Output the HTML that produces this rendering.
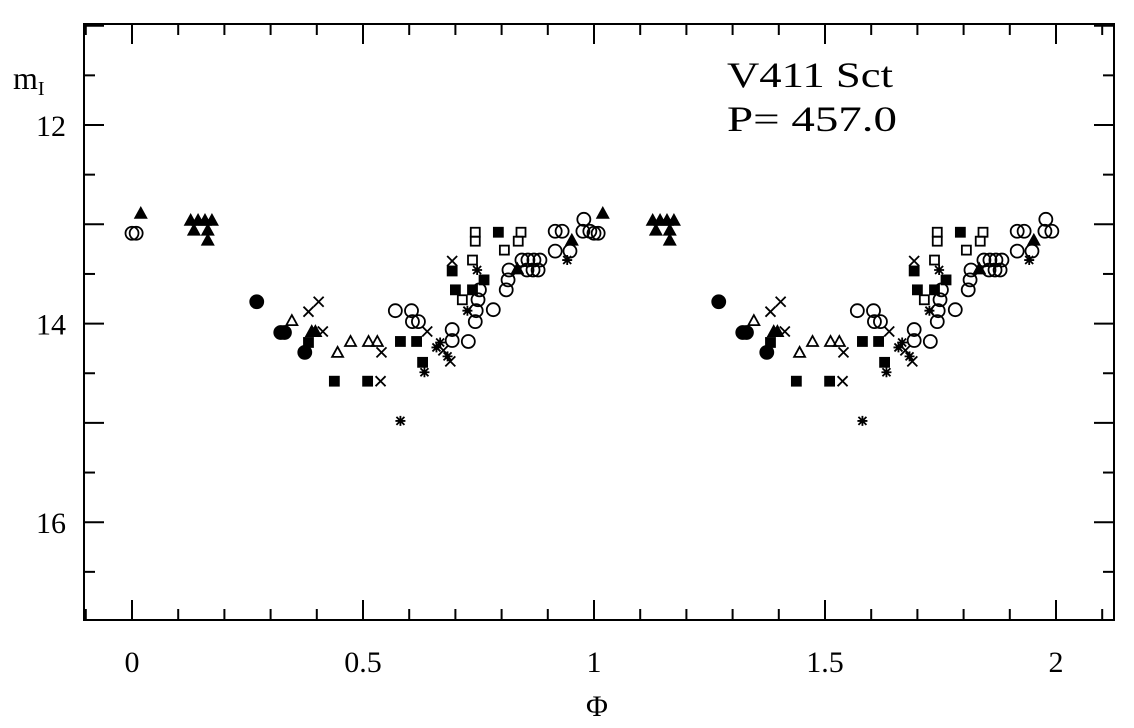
<!DOCTYPE html>
<html><head><meta charset="utf-8"><style>
html,body{margin:0;padding:0;background:#fff;}
svg{display:block;font-family:"Liberation Serif",serif;}
</style></head><body>
<svg id="chart" width="1134" height="728" viewBox="0 0 1134 728">
<rect x="84" y="24" width="1030" height="596" fill="none" stroke="#000" stroke-width="2"/>
<g id="ticks"></g>
<g id="labels"></g>
<g id="pts"></g>
<text x="727" y="87" font-size="36" textLength="166" lengthAdjust="spacingAndGlyphs">V411 Sct</text>
<text x="727" y="131" font-size="36" textLength="170" lengthAdjust="spacingAndGlyphs">P= 457.0</text>
<text x="13" y="89" font-size="32">m<tspan font-size="20" dy="6">I</tspan></text>
<text x="597" y="716" font-size="30" text-anchor="middle">Φ</text>
</svg>
<script>
const xTickLabels=["0","0.5","1","1.5","2"];
const xTickVals=[0,0.5,1,1.5,2];
const yTickLabels=["12","14","16"];
const yTickVals=[12,14,16];
const phases=[0.019,0.0,0.009,0.127,0.143,0.158,0.173,0.134,0.164,0.164,0.27,0.322,0.33,0.346,0.374,0.382,0.389,0.397,0.382,0.404,0.413,0.445,0.473,0.512,0.531,0.54,0.438,0.51,0.538,0.581,0.57,0.605,0.607,0.62,0.581,0.616,0.639,0.629,0.633,0.667,0.674,0.683,0.689,0.659,0.693,0.693,0.728,0.978,0.916,0.931,0.976,0.991,0.952,0.916,0.948,0.942,0.743,0.743,0.793,0.842,0.836,0.806,0.693,0.693,0.737,0.747,0.762,0.7,0.737,0.752,0.715,0.749,0.81,0.814,0.816,0.844,0.857,0.87,0.883,0.855,0.868,0.879,0.834,0.782,0.726,0.745,0.743];
const mags=[12.89,13.09,13.09,12.96,12.96,12.96,12.96,13.06,13.06,13.16,13.78,14.09,14.09,13.97,14.29,14.19,14.08,14.08,13.88,13.78,14.08,14.29,14.18,14.18,14.18,14.29,14.58,14.58,14.58,14.98,13.87,13.87,13.98,13.98,14.18,14.18,14.08,14.39,14.49,14.19,14.27,14.33,14.38,14.24,14.06,14.17,14.18,12.95,13.07,13.07,13.07,13.07,13.16,13.27,13.27,13.36,13.08,13.17,13.08,13.08,13.17,13.26,13.37,13.47,13.36,13.46,13.56,13.66,13.66,13.66,13.76,13.76,13.66,13.56,13.46,13.36,13.36,13.36,13.36,13.46,13.46,13.46,13.45,13.86,13.87,13.87,13.98];
const kinds=["ft","oc","oc","ft","ft","ft","ft","ft","ft","ft","fc","fc","fc","ot","fc","fs","ft","ft","x","x","x","ot","ot","ot","ot","x","fs","fs","x","st","oc","oc","oc","oc","fs","fs","x","fs","st","st","x","st","x","st","oc","oc","oc","oc","oc","oc","oc","oc","ft","oc","oc","st","os","os","fs","os","os","os","x","fs","os","st","fs","fs","fs","oc","os","oc","oc","oc","oc","oc","oc","oc","oc","oc","oc","oc","ft","oc","st","oc","oc"];
const NS="http://www.w3.org/2000/svg";
const X0=84,X1=1114,Y0=24,Y1=620;
function xs(p){return 132+p*462;}
function ys(m){return 125+(m-12)*99.3;}
function mk(tag,attrs,parent){const e=document.createElementNS(NS,tag);for(const k in attrs)e.setAttribute(k,attrs[k]);parent.appendChild(e);return e;}
const tg=document.getElementById('ticks');
for(let i=-1;i<=21;i++){const p=i/10;const x=xs(p);if(x<=X0+1||x>=X1-1)continue;const L=(i%5===0)?20:11;
 mk('line',{x1:x,y1:Y1,x2:x,y2:Y1-L,stroke:'#000','stroke-width':2},tg);
 mk('line',{x1:x,y1:Y0,x2:x,y2:Y0+L,stroke:'#000','stroke-width':2},tg);}
for(let i=0;i<=14;i++){const m=11+i*0.5;const y=ys(m);if(y<=Y0+1||y>=Y1-1)continue;const L=(i%2===0)?20:11;
 mk('line',{x1:X0,y1:y,x2:X0+L,y2:y,stroke:'#000','stroke-width':2},tg);
 mk('line',{x1:X1,y1:y,x2:X1-L,y2:y,stroke:'#000','stroke-width':2},tg);}
const lg=document.getElementById('labels');
xTickVals.forEach((v,i)=>{const t=mk('text',{x:xs(v),y:672,'text-anchor':'middle','font-size':30},lg);t.textContent=xTickLabels[i];

});
yTickVals.forEach((v,i)=>{const t=mk('text',{x:66,y:ys(v)+11,'text-anchor':'end','font-size':30},lg);t.textContent=yTickLabels[i];

});
const pg=document.getElementById('pts');
function draw(k,x,y){let e;const sw=1.8;
 if(k==='oc'||k==='fc'){e=mk('circle',{cx:x,cy:y,r:6.5,fill:k==='fc'?'#000':'none',stroke:'#000','stroke-width':sw},pg);}
 else if(k==='os'||k==='fs'){e=mk('rect',{x:x-4.5,y:y-4.5,width:9,height:9,fill:k==='fs'?'#000':'none',stroke:'#000','stroke-width':sw},pg);}
 else if(k==='ot'||k==='ft'){e=mk('polygon',{points:`${x-5.5},${y+4.5} ${x+5.5},${y+4.5} ${x},${y-5.5}`,fill:k==='ft'?'#000':'none',stroke:'#000','stroke-width':sw},pg);}
 else if(k==='x'){e=mk('path',{d:`M${x-5},${y-5}L${x+5},${y+5}M${x-5},${y+5}L${x+5},${y-5}`,stroke:'#000','stroke-width':sw,fill:'none'},pg);}
 else {e=mk('path',{d:`M${x-5},${y}L${x+5},${y}M${x-4},${y-4}L${x+4},${y+4}M${x-4},${y+4}L${x+4},${y-4}M${x},${y-5}L${x},${y+5}`,stroke:'#000','stroke-width':sw,fill:'none'},pg);}
 return e;}
for(let rep=0;rep<2;rep++){
 phases.forEach((p,i)=>{const e=draw(kinds[i],xs(p+rep),ys(mags[i]));
 
 });}
</script>
</body></html>
